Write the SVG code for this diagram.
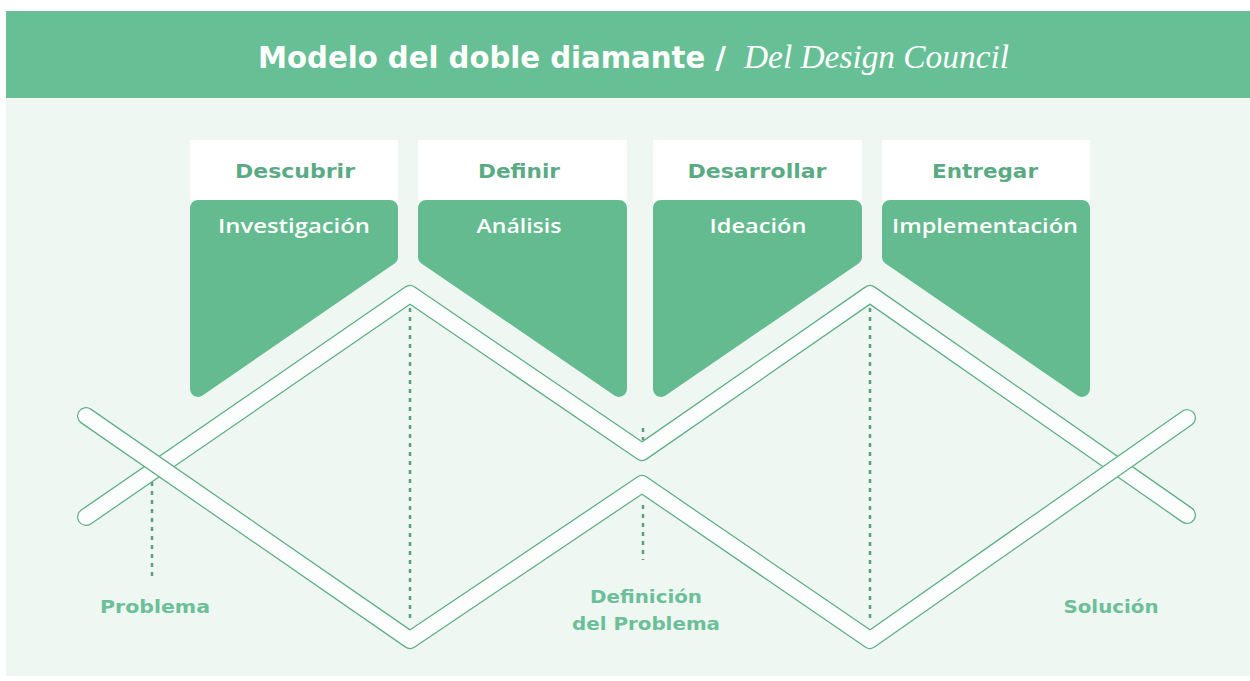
<svg xmlns="http://www.w3.org/2000/svg" width="1250" height="681" viewBox="0 0 1250 681">
  <style>
    .hdr { fill: #ffffff; }
    .card { fill: #64bb8f; stroke: #64bb8f; stroke-width: 16; stroke-linejoin: round; }
    .phase { font-family: "DejaVu Sans", "Liberation Sans", sans-serif; font-weight: 700; font-size: 20px; fill: #5aab84; text-anchor: middle; }
    .act { font-family: "Open Sans", "Liberation Sans", sans-serif; font-weight: 600; font-size: 19px; fill: #ffffff; text-anchor: middle; }
    .lbl { font-family: "DejaVu Sans", "Liberation Sans", sans-serif; font-weight: 700; font-size: 17px; fill: #6cbf98; text-anchor: middle; }
    .bandO { fill: none; stroke: #5fae88; stroke-width: 18; stroke-linecap: round; stroke-linejoin: round; }
    .bandI { fill: none; stroke: #fbfefc; stroke-width: 15.5; stroke-linecap: round; stroke-linejoin: round; }
    .dot { fill: none; stroke: #5c9f80; stroke-width: 2.5; stroke-dasharray: 4 5; }
  </style>
  <rect x="0" y="0" width="1250" height="681" fill="#ffffff"/>
  <rect x="6" y="98" width="1244" height="578" fill="#eef7f2"/>
  <g id="header">
    <rect x="6" y="11" width="1244" height="87" fill="#67bf95"/>
    <text x="258" y="68" textLength="468" lengthAdjust="spacingAndGlyphs" font-family="DejaVu Sans, Liberation Sans, sans-serif" font-weight="700" font-size="31" fill="#ffffff">Modelo del doble diamante /</text>
    <text x="744" y="68" textLength="265" lengthAdjust="spacingAndGlyphs" font-family="Liberation Serif, serif" font-style="italic" font-size="34" fill="#ffffff">Del Design Council</text>
  </g>

  <g id="connectors">
    <path class="bandO" d="M86,517 L410,294 L642,452 L870,294 L1187,515"/>
    <path class="bandI" d="M86,517 L410,294 L642,452 L870,294 L1187,515"/>
    <path class="bandO" d="M86,416 L410,640 L642,484 L870,640 L1187,418"/>
    <path class="bandI" d="M86,416 L410,640 L642,484 L870,640 L1187,418"/>
    <line class="dot" x1="152" y1="482" x2="152" y2="578"/>
    <line class="dot" x1="410" y1="308" x2="410" y2="620"/>
    <line class="dot" x1="643" y1="428" x2="643" y2="440"/>
    <line class="dot" x1="643" y1="505" x2="643" y2="560"/>
    <line class="dot" x1="870" y1="308" x2="870" y2="620"/>
  </g>

  <g id="descubrir">
    <rect class="hdr" x="190" y="140" width="208" height="75"/>
    <polygon class="card" points="198,208 390,208 390,256.8 198,388.9"/>
    <text class="phase" x="295" y="178" textLength="120" lengthAdjust="spacingAndGlyphs">Descubrir</text>
    <text class="act" x="294" y="233" textLength="152" lengthAdjust="spacingAndGlyphs">Investigación</text>
  </g>
  <g id="definir">
    <rect class="hdr" x="418" y="140" width="209" height="75"/>
    <polygon class="card" points="426,208 619,208 619,388.9 426,256.8"/>
    <text class="phase" x="519" y="178" textLength="82" lengthAdjust="spacingAndGlyphs">Definir</text>
    <text class="act" x="519" y="233" textLength="85" lengthAdjust="spacingAndGlyphs">Análisis</text>
  </g>
  <g id="desarrollar">
    <rect class="hdr" x="653" y="140" width="209" height="75"/>
    <polygon class="card" points="661,208 854,208 854,256.8 661,388.9"/>
    <text class="phase" x="757" y="178" textLength="139" lengthAdjust="spacingAndGlyphs">Desarrollar</text>
    <text class="act" x="758" y="233" textLength="97" lengthAdjust="spacingAndGlyphs">Ideación</text>
  </g>
  <g id="entregar">
    <rect class="hdr" x="882" y="140" width="208" height="75"/>
    <polygon class="card" points="890,208 1082,208 1082,388.9 890,256.8"/>
    <text class="phase" x="985" y="178" textLength="106" lengthAdjust="spacingAndGlyphs">Entregar</text>
    <text class="act" x="985" y="233" textLength="186" lengthAdjust="spacingAndGlyphs">Implementación</text>
  </g>

  <g id="problema">
    <text class="lbl" x="155" y="613" textLength="110" lengthAdjust="spacingAndGlyphs">Problema</text>
  </g>
  <g id="definicion">
    <text class="lbl" x="646" y="603" textLength="112" lengthAdjust="spacingAndGlyphs">Definición</text>
    <text class="lbl" x="646" y="630" textLength="148" lengthAdjust="spacingAndGlyphs">del Problema</text>
  </g>
  <g id="solucion">
    <text class="lbl" x="1111" y="613" textLength="95" lengthAdjust="spacingAndGlyphs">Solución</text>
  </g>
</svg>
